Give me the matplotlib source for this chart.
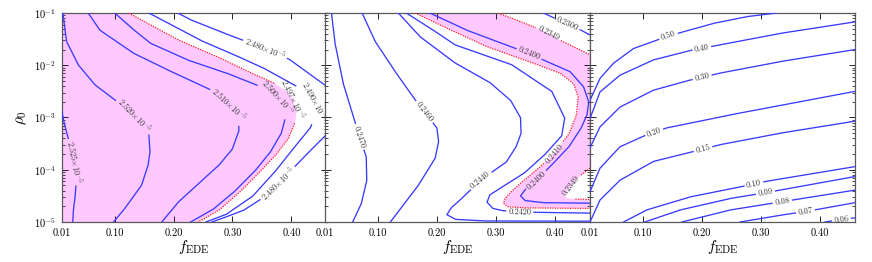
import numpy as np
import matplotlib
matplotlib.use('Agg')
import matplotlib.pyplot as plt

plt.rcParams['font.family'] = 'serif'
plt.rcParams['font.serif'] = ['cmr10']
plt.rcParams['mathtext.fontset'] = 'cm'
plt.rcParams['axes.formatter.use_mathtext'] = True

# ---- data: contour lines, (f_EDE, log10 rho_0) ----
# left panel (levels in units of 1e-5)
f_2525 = [0.010, 0.013, 0.0186, 0.027, 0.033, 0.0345, 0.033, 0.030, 0.0288]
r_2525 = [-2.86, -3.05, -3.30, -3.62, -3.95, -4.26, -4.50, -4.75, -5.00]
f_2520 = [0.012, 0.018, 0.038, 0.066, 0.100, 0.134, 0.158, 0.160, 0.157, 0.146, 0.118, 0.098]
r_2520 = [-1.00, -1.54, -1.99, -2.37, -2.66, -2.96, -3.33, -3.65, -3.90, -4.29, -4.73, -5.00]
f_2510 = [0.055, 0.075, 0.132, 0.190, 0.263, 0.295, 0.310, 0.311, 0.300, 0.278, 0.236, 0.208, 0.180]
r_2510 = [-1.00, -1.33, -1.77, -2.09, -2.47, -2.76, -3.00, -3.25, -3.60, -3.90, -4.33, -4.62, -5.00]
f_2500 = [0.100, 0.130, 0.161, 0.224, 0.290, 0.335, 0.362, 0.378, 0.388, 0.390, 0.383, 0.365, 0.340, 0.305, 0.268, 0.229]
r_2500 = [-1.00, -1.30, -1.58, -1.90, -2.15, -2.35, -2.48, -2.60, -2.80, -3.00, -3.30, -3.65, -4.00, -4.40, -4.75, -5.00]
f_2497 = [0.124, 0.161, 0.209, 0.275, 0.332, 0.372, 0.392, 0.403, 0.409, 0.406, 0.395, 0.375, 0.350, 0.315, 0.280, 0.255, 0.241]
r_2497 = [-1.00, -1.23, -1.52, -1.84, -2.15, -2.35, -2.50, -2.65, -2.90, -3.10, -3.40, -3.70, -4.00, -4.40, -4.75, -4.92, -5.00]
f_2490 = [0.158, 0.200, 0.245, 0.303, 0.352, 0.392, 0.422, 0.440, 0.443, 0.432, 0.410, 0.375, 0.335, 0.290, 0.255]
r_2490 = [-1.00, -1.25, -1.52, -1.80, -2.05, -2.30, -2.48, -2.68, -2.92, -3.20, -3.50, -4.00, -4.50, -4.85, -5.00]
f_2480a = [0.207, 0.229, 0.280, 0.315, 0.356, 0.397, 0.429, 0.452, 0.460]
r_2480a = [-1.00, -1.13, -1.36, -1.51, -1.68, -1.89, -2.15, -2.34, -2.40]
f_2480b = [0.460, 0.435, 0.405, 0.377, 0.350, 0.320, 0.290, 0.265]
r_2480b = [-3.32, -3.60, -3.95, -4.26, -4.55, -4.77, -4.90, -5.00]

# middle panel
f_2470 = [0.021, 0.027, 0.041, 0.058, 0.069, 0.080, 0.081, 0.072, 0.057]
r_2470 = [-1.00, -1.58, -2.35, -2.98, -3.37, -3.75, -4.20, -4.64, -5.00]
f_2460 = [0.073, 0.095, 0.129, 0.161, 0.179, 0.200, 0.203, 0.197, 0.169, 0.121]
r_2460 = [-1.00, -1.54, -2.12, -2.63, -2.89, -3.20, -3.46, -3.78, -4.29, -5.00]
f_2440 = [0.1345, 0.171, 0.230, 0.290, 0.325, 0.342, 0.343, 0.335, 0.318, 0.274, 0.245, 0.225, 0.217, 0.232, 0.280, 0.460]
r_2440 = [-1.00, -1.45, -1.95, -2.33, -2.67, -3.00, -3.30, -3.55, -3.85, -4.20, -4.52, -4.72, -4.86, -4.95, -4.98, -4.985]
f_2420 = [0.148, 0.190, 0.231, 0.327, 0.395, 0.417, 0.412, 0.385, 0.350, 0.315, 0.290, 0.285, 0.295, 0.310, 0.341, 0.460]
r_2420 = [-1.00, -1.30, -1.61, -1.99, -2.50, -3.01, -3.35, -3.69, -4.05, -4.30, -4.48, -4.62, -4.74, -4.78, -4.81, -4.83]
f_2410 = [0.163, 0.211, 0.284, 0.364, 0.409, 0.432, 0.440, 0.437, 0.425, 0.399, 0.375, 0.350, 0.328, 0.316, 0.313, 0.321, 0.350, 0.460]
r_2410 = [-1.00, -1.26, -1.64, -1.96, -2.15, -2.35, -2.60, -2.95, -3.30, -3.69, -3.95, -4.18, -4.40, -4.54, -4.64, -4.71, -4.73, -4.74]
f_2400 = [0.188, 0.251, 0.324, 0.357, 0.381, 0.426, 0.449, 0.458, 0.455, 0.445, 0.425, 0.400, 0.369, 0.350, 0.342, 0.350, 0.380, 0.460]
r_2400 = [-1.00, -1.33, -1.64, -1.77, -1.90, -2.12, -2.41, -2.70, -2.95, -3.20, -3.55, -3.85, -4.20, -4.38, -4.50, -4.59, -4.63, -4.64]
f_2349a = [0.304, 0.364, 0.390, 0.409, 0.435, 0.460]
r_2349a = [-1.00, -1.26, -1.39, -1.52, -1.66, -1.80]
f_2349b = [0.460, 0.445, 0.432, 0.423, 0.417, 0.420, 0.432, 0.460]
r_2349b = [-3.97, -4.10, -4.25, -4.38, -4.48, -4.54, -4.56, -4.57]
f_2300 = [0.381, 0.400, 0.421, 0.445, 0.460]
r_2300 = [-1.00, -1.10, -1.21, -1.33, -1.42]

# right panel
f_050 = [0.010, 0.027, 0.050, 0.084, 0.143, 0.219, 0.276, 0.327]
r_050 = [-2.67, -2.25, -1.96, -1.68, -1.44, -1.20, -1.07, -1.00]
f_040 = [0.010, 0.027, 0.061, 0.117, 0.179, 0.231, 0.333, 0.460]
r_040 = [-3.02, -2.51, -2.19, -1.90, -1.72, -1.61, -1.39, -1.17]
f_030 = [0.010, 0.027, 0.061, 0.117, 0.174, 0.231, 0.333, 0.460]
r_030 = [-3.58, -3.18, -2.80, -2.48, -2.30, -2.15, -1.93, -1.70]
f_020 = [0.010, 0.027, 0.061, 0.100, 0.140, 0.248, 0.460]
r_020 = [-4.42, -3.97, -3.56, -3.36, -3.20, -2.95, -2.50]
f_015 = [0.010, 0.027, 0.061, 0.118, 0.186, 0.231, 0.333, 0.460]
r_015 = [-5.00, -4.58, -4.20, -3.84, -3.65, -3.52, -3.30, -3.07]
f_010 = [0.067, 0.106, 0.180, 0.265, 0.288, 0.310, 0.460]
r_010 = [-5.00, -4.77, -4.52, -4.33, -4.27, -4.22, -3.94]
f_009 = [0.103, 0.163, 0.248, 0.308, 0.460]
r_009 = [-5.00, -4.77, -4.55, -4.44, -4.13]
f_008 = [0.166, 0.248, 0.337, 0.460]
r_008 = [-5.00, -4.77, -4.61, -4.39]
f_007 = [0.265, 0.333, 0.376, 0.460]
r_007 = [-5.00, -4.87, -4.80, -4.63]
f_006 = [0.409, 0.437, 0.460]
r_006 = [-5.00, -4.95, -4.92]

xticks = [0.01, 0.1, 0.2, 0.3, 0.4]
xticklabels = ['0.01', '0.10', '0.20', '0.30', '0.40']
yticks = [1e-5, 1e-4, 1e-3, 1e-2, 1e-1]
yticklabels = [r'$10^{-5}$', r'$10^{-4}$', r'$10^{-3}$', r'$10^{-2}$', r'$10^{-1}$']

BLUE = '#3a3aff'
PINK = '#ffc8ff'
RED = '#ff2020'

fig = plt.figure(figsize=(8.72, 2.62), dpi=100)
renderer = fig.canvas.get_renderer()

lefts = [61.7 / 872, 325 / 872, 590 / 872]
width = 265 / 872
axes = []
for i, l in enumerate(lefts):
    ax = fig.add_axes([l, 1 - 222 / 262, width, 209 / 262])
    ax.set_yscale('log')
    ax.set_xlim(0.01, 0.46)
    ax.set_ylim(1e-5, 1e-1)
    ax.set_xticks(xticks)
    ax.set_xticklabels(xticklabels, fontsize=7.5)
    ax.set_yticks(yticks)
    if i == 0:
        ax.set_yticklabels(yticklabels, fontsize=7.5)
        ax.set_ylabel(r'$\rho_0$', fontsize=11)
        ax.yaxis.set_label_coords(-0.125, 0.5)
    else:
        ax.set_yticklabels([])
    ax.tick_params(which='both', direction='in', top=True, right=True)
    ax.tick_params(axis='x', pad=4.5)
    ax.tick_params(axis='y', pad=4)
    ax.tick_params(which='major', length=4, width=0.6)
    ax.tick_params(which='minor', length=2, width=0.5)
    ax.set_xlabel(r'$f_{\rm EDE}$', fontsize=11, labelpad=0)
    for s in ax.spines.values():
        s.set_color('0.35')
        s.set_linewidth(0.9)
    axes.append(ax)


def draw(ax, f, r, labels=(), color=BLUE, ls='-', lw=0.95):
    f = np.asarray(f, float)
    r = np.asarray(r, float)
    k = np.arange(len(f))
    t = np.linspace(0, len(f) - 1, 80 * (len(f) - 1) + 1)
    fd = np.interp(t, k, f)
    rd = np.interp(t, k, r)
    pts = ax.transData.transform(np.column_stack([fd, 10 ** rd]))
    keep = np.ones(len(fd), bool)
    for text, (lf, lr) in labels:
        c = ax.transData.transform((lf, 10 ** lr))
        i = int(np.argmin(np.hypot(pts[:, 0] - c[0], pts[:, 1] - c[1])))
        j0, j1 = max(i - 10, 0), min(i + 10, len(fd) - 1)
        dx, dy = pts[j1] - pts[j0]
        ang = np.degrees(np.arctan2(dy, dx))
        if ang > 90:
            ang -= 180
        elif ang < -90:
            ang += 180
        tx = ax.text(fd[i], 10 ** rd[i], text, ha='center', va='center',
                     fontsize=6, color='0.2', rotation_mode='anchor', zorder=5)
        w = tx.get_window_extent(renderer).width
        tx.set_rotation(ang)
        half = w / 2 + 2.5
        d = np.hypot(pts[:, 0] - pts[i, 0], pts[:, 1] - pts[i, 1])
        a = i
        while a >= 0 and d[a] < half:
            keep[a] = False
            a -= 1
        b = i
        while b < len(fd) and d[b] < half:
            keep[b] = False
            b += 1
    fp = fd.copy()
    fp[~keep] = np.nan
    ax.plot(fp, 10 ** rd, color=color, ls=ls, lw=lw, zorder=3)


def sci(v):
    return r'$%s{\times}10^{-5}$' % v


# ---- left panel ----
ax = axes[0]
pf = [0.01] + f_2497 + [0.01]
pr = [-1.0] + r_2497 + [-5.0]
ax.fill(pf, 10 ** np.array(pr), color=PINK, lw=0, zorder=1)
draw(ax, f_2525, r_2525, [(sci('2.525'), (0.031, -3.85))])
draw(ax, f_2520, r_2520, [(sci('2.520'), (0.134, -2.96))])
draw(ax, f_2510, r_2510, [(sci('2.510'), (0.293, -2.76))])
draw(ax, f_2500, r_2500, [(sci('2.500'), (0.378, -2.60))])
draw(ax, f_2497, r_2497, [(sci('2.497'), (0.403, -2.65))], color=RED, ls=(0, (1, 1)), lw=0.9)
draw(ax, f_2490, r_2490, [(sci('2.490'), (0.440, -2.68))])
draw(ax, f_2480a, r_2480a, [(sci('2.480'), (0.356, -1.68))])
draw(ax, f_2480b, r_2480b, [(sci('2.480'), (0.377, -4.26))])

# ---- middle panel ----
ax = axes[1]
pf = f_2410 + [0.46] + f_2349b[::-1] + [0.46] + f_2349a[::-1]
pr = r_2410 + [-4.57] + r_2349b[::-1] + [-1.80] + r_2349a[::-1]
ax.fill(pf, 10 ** np.array(pr), color=PINK, lw=0, zorder=1)
draw(ax, f_2470, r_2470, [('0.2470', (0.069, -3.37))])
draw(ax, f_2460, r_2460, [('0.2460', (0.179, -2.89))])
draw(ax, f_2440, r_2440, [('0.2440', (0.274, -4.20))])
draw(ax, f_2420, r_2420, [('0.2420', (0.341, -4.81))])
draw(ax, f_2410, r_2410, [('0.2410', (0.399, -3.69))], color=RED, ls=(0, (1, 1)), lw=0.9)
draw(ax, f_2400, r_2400, [('0.2400', (0.357, -1.77)), ('0.2400', (0.369, -4.20))])
draw(ax, f_2349a, r_2349a, [('0.2349', (0.390, -1.39))], color=RED, ls=(0, (1, 1)), lw=0.9)
draw(ax, f_2349b, r_2349b, [('0.2349', (0.428, -4.30))], color=RED, ls=(0, (1, 1)), lw=0.9)
draw(ax, f_2300, r_2300, [('0.2300', (0.421, -1.21))])

# ---- right panel ----
ax = axes[2]
draw(ax, f_050, r_050, [('0.50', (0.143, -1.44))])
draw(ax, f_040, r_040, [('0.40', (0.200, -1.67))])
draw(ax, f_030, r_030, [('0.30', (0.200, -2.22))])
draw(ax, f_020, r_020, [('0.20', (0.119, -3.28))])
draw(ax, f_015, r_015, [('0.15', (0.201, -3.58))])
draw(ax, f_010, r_010, [('0.10', (0.288, -4.26))])
draw(ax, f_009, r_009, [('0.09', (0.308, -4.44))])
draw(ax, f_008, r_008, [('0.08', (0.337, -4.61))])
draw(ax, f_007, r_007, [('0.07', (0.376, -4.80))])
draw(ax, f_006, r_006, [('0.06', (0.437, -4.95))])

fig.savefig('out.png', dpi=100)
